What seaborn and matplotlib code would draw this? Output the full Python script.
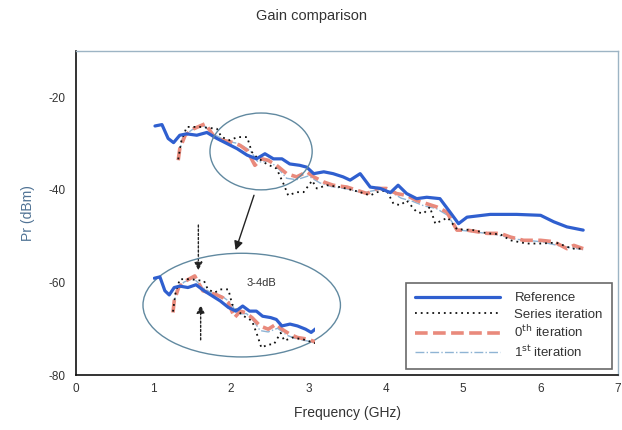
import matplotlib
matplotlib.use("Agg")
import matplotlib.pyplot as plt
from matplotlib.patches import Ellipse
import seaborn as sns
import pandas as pd

# ---------------- data ----------------
ref_x = [1.02, 1.11, 1.19, 1.26, 1.34, 1.43, 1.56, 1.69, 1.82, 1.95, 2.08, 2.21, 2.33, 2.44, 2.55,
         2.66, 2.76, 2.89, 2.98, 3.07, 3.20, 3.32, 3.45, 3.54, 3.67, 3.80, 3.93, 4.06, 4.16, 4.27,
         4.40, 4.53, 4.70, 4.83, 4.94, 5.05, 5.35, 5.69, 6.00, 6.17, 6.34, 6.55]
ref_y = [-26.2, -25.9, -28.9, -29.8, -28.2, -27.9, -28.2, -27.6, -28.9, -30.0, -31.1, -32.5, -33.3, -32.2, -33.3,
         -33.3, -34.4, -34.7, -35.1, -36.5, -36.1, -36.5, -37.2, -37.9, -36.5, -39.4, -39.7, -40.6, -39.0, -40.8,
         -41.9, -41.6, -41.9, -44.8, -47.3, -45.9, -45.3, -45.3, -45.5, -46.9, -48.0, -48.7]

ser_x = [1.32, 1.36, 1.43, 1.60, 1.82, 1.88, 1.99, 2.08, 2.21, 2.27, 2.33, 2.46, 2.59, 2.68, 2.74,
         2.85, 2.94, 3.05, 3.11, 3.24, 3.41, 3.58, 3.67, 3.80, 3.89, 4.01, 4.10, 4.19, 4.27, 4.40,
         4.49, 4.57, 4.64, 4.80, 4.92, 5.13, 5.31, 5.48, 5.61, 5.82, 6.00, 6.20, 6.41, 6.55]
ser_y = [-33.4, -29.5, -26.4, -26.4, -26.8, -28.6, -29.3, -28.6, -28.6, -31.8, -32.9, -34.4, -35.4, -38.7, -41.2,
         -40.5, -40.5, -38.0, -39.7, -39.0, -39.4, -40.1, -40.5, -41.2, -40.5, -40.1, -43.0, -43.3, -42.3, -44.8,
         -45.1, -43.7, -47.3, -46.0, -48.5, -48.7, -49.4, -49.6, -50.9, -51.6, -51.6, -51.4, -52.7, -52.7]

it0_x = [1.32, 1.34, 1.41, 1.52, 1.67, 1.73, 1.80, 1.90, 2.01, 2.12, 2.21, 2.31, 2.40, 2.48, 2.59,
         2.72, 2.85, 2.98, 3.07, 3.20, 3.32, 3.50, 3.63, 3.76, 3.89, 4.01, 4.14, 4.27, 4.40, 4.53,
         4.66, 4.79, 4.92, 5.05, 5.31, 5.48, 5.61, 5.78, 6.00, 6.17, 6.34, 6.43, 6.55]
it0_y = [-33.6, -31.1, -28.2, -26.8, -25.7, -27.2, -28.9, -29.3, -29.7, -30.4, -31.5, -34.7, -33.3, -33.6, -34.7,
         -36.5, -37.2, -36.1, -37.2, -38.3, -39.0, -39.4, -40.1, -40.8, -39.7, -39.7, -40.8, -41.2, -42.3, -43.0,
         -43.7, -44.8, -48.7, -48.7, -49.4, -49.4, -50.2, -50.9, -50.9, -51.2, -52.7, -52.0, -52.7]

it1_x = [1.32, 1.38, 1.50, 1.65, 1.80, 1.95, 2.10, 2.25, 2.35, 2.50, 2.62, 2.72, 2.85, 3.00, 3.15,
         3.30, 3.50, 3.70, 3.90, 4.05, 4.20, 4.35, 4.50, 4.65, 4.80, 4.92, 5.10, 5.40, 5.70, 6.00,
         6.30, 6.55]
it1_y = [-33.0, -28.5, -27.0, -26.2, -28.2, -29.5, -30.0, -31.5, -34.0, -33.8, -35.5, -37.5, -37.8, -37.0, -38.5,
         -39.3, -39.8, -40.6, -40.0, -40.3, -41.8, -42.5, -43.5, -44.0, -45.5, -48.6, -49.0, -49.6, -50.7, -51.2,
         -52.3, -52.9]

labels = ["Reference", "Series iteration", "0$^{\\rm th}$ iteration", "1$^{\\rm st}$ iteration"]
x_ticks = [0, 1, 2, 3, 4, 5, 6, 7]
y_ticks = [-80, -60, -40, -20]

# ---------------- styling ----------------
sns.set_theme(style="white")
plt.rcParams["font.family"] = ["Liberation Sans", "DejaVu Sans"]

fig = plt.figure(figsize=(6.22, 4.30), dpi=100)
ax = fig.add_axes([0.1222, 0.1279, 0.8714, 0.7535])

styles = [
    dict(color="#2f5fcf", lw=2.3, ls="-"),
    dict(color="#111111", lw=1.3, ls=(0, (1, 2.2))),
    dict(color="#e98a7c", lw=2.6, ls=(0, (3.5, 1.5))),
    dict(color="#8fb4d4", lw=1.0, ls="-."),
]
series = [(ref_x, ref_y), (ser_x, ser_y), (it0_x, it0_y), (it1_x, it1_y)]
draw_order = [3, 2, 1, 0]


def draw(target, with_label):
    for i in draw_order:
        xs, ys = series[i]
        df = pd.DataFrame({"f": xs, "p": ys})
        st = styles[i]
        sns.lineplot(data=df, x="f", y="p", ax=target, estimator=None, sort=False,
                     color=st["color"], linewidth=st["lw"], linestyle=st["ls"],
                     label=labels[i] if with_label else None, legend=False)


draw(ax, True)

ax.set_xlim(0, 7)
ax.set_ylim(-80, -10)
ax.set_xticks(x_ticks)
ax.set_yticks(y_ticks)
ax.set_xticklabels([str(t) for t in x_ticks])
ax.set_yticklabels([str(t) for t in y_ticks])
ax.tick_params(axis="both", labelsize=8.5, colors="#333333", length=4, width=1)
ax.tick_params(axis="x", direction="inout", length=5)
ax.tick_params(axis="y", direction="out", length=4)
ax.set_xlabel("Frequency (GHz)", fontsize=10, color="#333333", labelpad=8)
ax.set_ylabel("Pr (dBm)", fontsize=10, color="#4f7294", labelpad=10)

for s in ["left", "bottom"]:
    ax.spines[s].set_color("#111111")
    ax.spines[s].set_linewidth(1.2)
for s in ["top", "right"]:
    ax.spines[s].set_color("#9db4c4")
    ax.spines[s].set_linewidth(1.0)

fig.text(0.5, 0.963, "Gain comparison", ha="center", va="center", fontsize=10.5, color="#333333")

# zoomed copy inside the lower ellipse
ins = ax.inset_axes([0.995, -77.9, 2.09, 23.0], transform=ax.transData)
draw(ins, False)
ins.set_xlim(1, 3.6)
ins.set_ylim(-45, -22)
ins.set_xlabel("")
ins.set_ylabel("")
ins.set_xticks([])
ins.set_yticks([])
ins.axis("off")
ins.patch.set_alpha(0)

# ellipses
ax.add_patch(Ellipse((2.39, -31.7), 1.32, 16.6, fill=False, edgecolor="#6189a0", lw=1.0, zorder=5))
ax.add_patch(Ellipse((2.14, -64.9), 2.55, 22.4, fill=False, edgecolor="#6189a0", lw=1.0, zorder=5))

# arrows
ax.annotate("", xy=(2.05, -53.6), xytext=(2.31, -40.6),
            arrowprops=dict(arrowstyle="-|>", color="#222222", lw=1.0, mutation_scale=13))
ax.annotate("", xy=(1.58, -58.0), xytext=(1.58, -47.0),
            arrowprops=dict(arrowstyle="-|>", color="#222222", lw=1.0, ls=(0, (1.5, 1.5)), mutation_scale=12))
ax.annotate("", xy=(1.61, -64.3), xytext=(1.61, -73.0),
            arrowprops=dict(arrowstyle="-|>", color="#222222", lw=1.0, ls=(0, (1.5, 1.5)), mutation_scale=12))
ax.text(2.40, -60.2, "3-4dB", fontsize=8, color="#333333", ha="center", va="center")

# legend
handles, lbls = ax.get_legend_handles_labels()
order = [lbls.index(l) for l in labels]
leg = ax.legend([handles[i] for i in order], [lbls[i] for i in order],
                loc="lower right", bbox_to_anchor=(0.989, 0.018), borderaxespad=0,
                fontsize=9.5, handlelength=6.4, labelspacing=0.3, handletextpad=1.1,
                frameon=True, fancybox=False, edgecolor="#444444", borderpad=0.7)
leg.get_frame().set_linewidth(1.2)
for t in leg.get_texts():
    t.set_color("#333333")

fig.savefig("out.png", dpi=100)
